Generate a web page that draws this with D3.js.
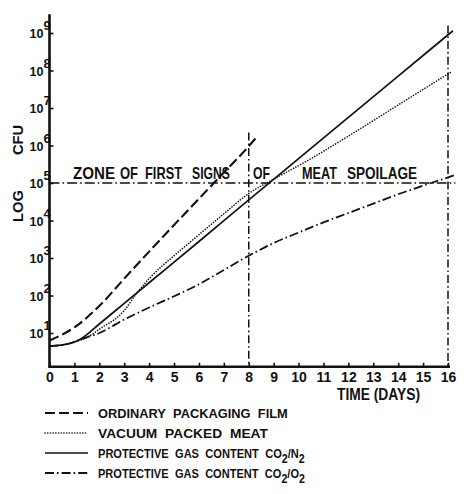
<!DOCTYPE html>
<html>
<head>
<meta charset="utf-8">
<script src="https://cdn.jsdelivr.net/npm/d3@7"></script>
<style>
  html, body { margin: 0; padding: 0; background: #fff; }
  svg text { font-family: "Liberation Sans", Arial, sans-serif; font-weight: bold; fill: #111; }
</style>
</head>
<body>
<svg id="chart" width="466" height="494"></svg>
<script>
// Bacterial growth on packaged meat, log10 CFU against storage time in days.
const dayTicks = [0, 1, 2, 3, 4, 5, 6, 7, 8, 9, 10, 11, 12, 13, 14, 15, 16];
const logTicks = [1, 2, 3, 4, 5, 6, 7, 8, 9];

// [day, log10 CFU]
const ordinaryFilm = [[0, 0.80], [1, 1.15], [2, 1.72], [3, 2.45], [4, 3.17], [5, 3.88], [6, 4.58], [7, 5.28], [8, 5.98], [8.35, 6.25]];
const vacuumPacked = [[0, 0.65], [0.5, 0.68], [1, 0.76], [1.5, 0.88], [2, 1.1], [3, 1.6], [3.5, 2.06], [4, 2.45], [5, 3.06], [6, 3.62], [7, 4.18], [8, 4.72], [9, 5.1], [10.5, 5.65], [12, 6.25], [14, 7.08], [16.15, 7.97]];
const gasCO2N2 = [[0, 0.65], [0.5, 0.68], [1, 0.76], [1.3, 0.86], [2, 1.24], [3, 1.79], [4, 2.34], [6, 3.44], [8, 4.55], [10, 5.65], [12, 6.75], [14, 7.85], [16.2, 9.06]];
const gasCO2O2 = [[0, 0.65], [0.5, 0.68], [1, 0.76], [1.3, 0.84], [2, 1.0], [3, 1.36], [4, 1.68], [5, 1.98], [6, 2.3], [7, 2.68], [8, 3.06], [9, 3.4], [10, 3.68], [11, 3.95], [12, 4.2], [13, 4.45], [14, 4.7], [15, 4.93], [16, 5.15], [16.3, 5.22]];

// Spoilage threshold and marker days
const spoilageLog = 5;
const markerDays = [[8, 6.35], [16, 9.2]];   // [day, top of marker line in log units]
const spoilageEnd = 16.3;

const zoneWords = ["ZONE", "OF", "FIRST", "SIGNS", "OF", "MEAT", "SPOILAGE"];
const legendLabels = [
  ["ORDINARY PACKAGING FILM"],
  ["VACUUM PACKED MEAT"],
  ["PROTECTIVE GAS CONTENT CO", "2", "/N", "2"],
  ["PROTECTIVE GAS CONTENT CO", "2", "/O", "2"]
];

const svg = d3.select("#chart");
const x = d3.scaleLinear().domain([0, 16]).range([49.5, 448]);
const y = d3.scaleLinear().domain([0.1, 9.5]).range([366.75, 14.25]);

const styles = [
  { data: ordinaryFilm, dash: "10,4", width: 2.1, cap: "butt" },
  { data: vacuumPacked, dash: "0.1,2.6", width: 1.6, cap: "round" },
  { data: gasCO2N2, dash: null, width: 1.7, cap: "butt" },
  { data: gasCO2O2, dash: "9,3,1.6,3", width: 1.8, cap: "butt" }
];

// Reference lines (dash-dot)
svg.append("line")
  .attr("x1", x(0)).attr("x2", x(spoilageEnd))
  .attr("y1", y(spoilageLog)).attr("y2", y(spoilageLog))
  .attr("stroke", "#111").attr("stroke-width", 1.4)
  .attr("stroke-dasharray", "10,3,1.6,3");

markerDays.forEach(([d, top]) => {
  svg.append("line")
    .attr("x1", x(d)).attr("x2", x(d))
    .attr("y1", y(top)).attr("y2", y(0.1))
    .attr("stroke", "#111").attr("stroke-width", 1.5)
    .attr("stroke-dasharray", "8,3,1.6,3");
});

// Zone label words sitting on the threshold line: [left x, width]
const zoneBoxes = [[73, 42], [120, 18], [145, 37], [192, 38], [253, 17], [302, 35], [347, 70]];
zoneWords.forEach((w, i) => {
  svg.append("text")
    .attr("x", zoneBoxes[i][0]).attr("y", y(spoilageLog) - 4)
    .attr("font-size", 17)
    .attr("textLength", zoneBoxes[i][1])
    .attr("lengthAdjust", "spacingAndGlyphs")
    .text(w);
});

// Growth curves
const line = d3.line().x(d => x(d[0])).y(d => y(d[1])).curve(d3.curveMonotoneX);
styles.forEach(s => {
  svg.append("path")
    .attr("d", line(s.data))
    .attr("fill", "none")
    .attr("stroke", "#111")
    .attr("stroke-width", s.width)
    .attr("stroke-linecap", s.cap)
    .attr("stroke-dasharray", s.dash);
});

// Axes
const xAxis = d3.axisBottom(x).tickValues(dayTicks).tickSize(-4).tickPadding(5).tickFormat(d3.format("d"));
const gx = svg.append("g").attr("transform", `translate(0,${y(0.1)})`).call(xAxis);
gx.select(".domain").attr("stroke", "#111").attr("stroke-width", 2.6).attr("d", `M${x(0) - 1},0H${x(16) + 2}`);
gx.selectAll(".tick line").attr("stroke", "#111").attr("stroke-width", 1.6);
gx.selectAll(".tick text").attr("font-size", 14).attr("fill", "#111")
  .style("font-family", '"Liberation Sans", Arial, sans-serif').style("font-weight", "bold");

const yAxis = d3.axisLeft(y).tickValues(logTicks).tickSize(-4).tickFormat("");
const gy = svg.append("g").attr("transform", `translate(${x(0)},0)`).call(yAxis);
gy.select(".domain").attr("stroke", "#111").attr("stroke-width", 2.6).attr("d", `M0,${y(9.5)}V${y(0.1) + 1}`);
gy.selectAll(".tick line").attr("stroke", "#111").attr("stroke-width", 1.6);

// Power-of-ten labels: "10" with a raised exponent in one text element
logTicks.forEach(p => {
  const t = svg.append("text")
    .attr("x", 29.5).attr("y", y(p) + 5)
    .attr("font-size", 12.5);
  t.append("tspan").text("10");
  t.append("tspan").attr("dy", -8).attr("font-size", 13).text(p);
});

// Axis titles
svg.append("text")
  .attr("transform", `translate(23,222) rotate(-90)`)
  .attr("font-size", 14).attr("textLength", 32).attr("lengthAdjust", "spacingAndGlyphs").text("LOG");
svg.append("text")
  .attr("transform", `translate(23,155) rotate(-90)`)
  .attr("font-size", 14).attr("textLength", 30).attr("lengthAdjust", "spacingAndGlyphs").text("CFU");
svg.append("text")
  .attr("x", 337).attr("y", 400)
  .attr("font-size", 16).attr("textLength", 83).attr("lengthAdjust", "spacingAndGlyphs")
  .text("TIME (DAYS)");

// Legend: each row squeezed horizontally to its printed width
const legendRowY = [413, 433, 453, 473];
const legendWidths = [190, 170, 207, 207];
styles.forEach((s, i) => {
  const ly = legendRowY[i];
  svg.append("line")
    .attr("x1", 45).attr("x2", 88)
    .attr("y1", ly).attr("y2", ly)
    .attr("stroke", "#111").attr("stroke-width", s.width)
    .attr("stroke-linecap", s.cap)
    .attr("stroke-dasharray", s.dash);
  const g = svg.append("g");
  const t = g.append("text")
    .attr("x", 0).attr("y", 0)
    .attr("font-size", 13.5)
    .style("word-spacing", "4px");
  legendLabels[i].forEach((p, j) => {
    const ts = t.append("tspan").text(p);
    if (j === 1 || j === 3) ts.attr("dy", 5).attr("font-size", 13);
    if (j === 2) ts.attr("dy", -5);
  });
  const w = t.node().getComputedTextLength();
  const sx = w > 0 ? legendWidths[i] / w : 1;
  g.attr("transform", `translate(98,${ly + 5}) scale(${sx},1)`);
});
</script>
</body>
</html>
